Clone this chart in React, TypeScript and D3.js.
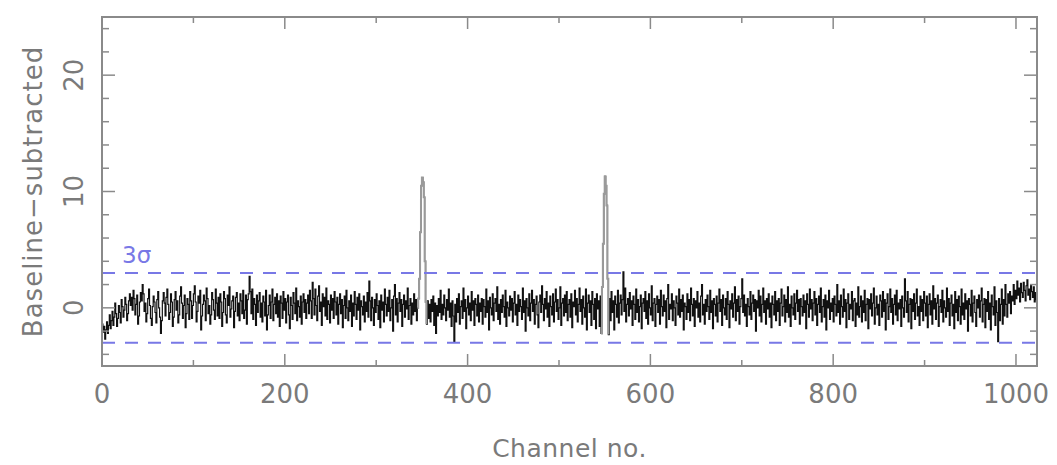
import React from 'react';
import * as d3 from 'd3';

// Baseline-subtracted spectrum, channels 0..1023
const noise0 = [
  -1.4,-2.1,-1.6,-2.7,-1.9,-1.2,-2.2,-1.5,-0.6,-1.8,-1.1,-0.3,-1.5,-0.8,0.4,-0.5,-1.6,-0.9,0.2,-0.4,-1.3,0.7,0.1,-0.8,-0.2,0.9,0.3,-1.1,-0.5,0.6,1.2,0.2,
  0.9,-0.2,1.5,0.8,-0.6,0.3,1.1,-1.4,-0.7,0.5,1.3,0.6,2.0,1.2,-0.3,0.4,-1.2,-0.5,0.8,1.6,0.2,-0.9,-1.5,0.1,1.0,0.5,-0.4,-1.3,0.7,1.4,0.0,-0.8,
  -2.2,-1.1,0.6,1.3,0.4,-0.7,0.9,1.6,0.3,-1.0,-0.4,1.2,0.5,-1.6,-0.8,0.7,1.4,-0.2,0.6,-1.3,-0.6,1.0,1.8,0.4,-0.9,0.2,1.1,-1.7,-0.5,0.8,0.3,-1.0,
  1.4,0.6,-0.9,0.2,1.2,1.9,0.5,-1.2,-0.3,1.0,0.4,1.5,-1.9,-0.7,0.3,1.1,0.6,-1.1,1.7,0.8,-0.5,0.2,-1.4,-0.6,1.3,0.7,-0.2,-1.0,1.6,0.4,-0.7,0.9,
];
const noise1 = [
  -0.9,1.2,0.5,-1.6,-0.4,1.4,0.8,-0.6,-1.3,1.1,0.2,1.8,-0.8,-0.1,0.6,1.0,-1.7,-0.3,0.9,1.3,-0.7,0.4,-1.1,1.2,0.6,-0.5,1.5,-0.9,-0.2,1.1,-1.4,0.7,
  1.2,2.7,1.4,-0.5,1.6,-1.0,0.8,0.3,-1.5,1.1,-0.4,0.6,1.3,-0.8,0.4,-1.2,1.0,0.5,-0.7,1.5,-1.9,-0.6,0.2,1.1,-0.9,0.5,1.6,-1.1,0.3,0.9,-0.5,1.2,
  -0.8,0.6,-1.6,1.0,0.4,-0.9,1.4,-0.2,0.8,-1.3,0.5,1.1,-0.6,-1.8,0.9,0.2,-1.0,1.3,0.4,-0.5,1.7,-1.1,0.6,0.1,-0.8,1.0,-1.4,0.5,1.2,-0.4,0.7,-0.9,
  0.4,1.1,-0.5,1.5,0.6,-0.9,2.2,0.8,-0.6,1.6,0.2,-1.1,1.0,1.9,-0.3,0.5,-1.5,1.2,0.1,0.9,-0.7,1.7,-1.0,0.6,0.3,-1.3,1.1,-0.2,0.8,-0.9,1.4,0.5,
];
const noise2 = [
  -0.6,0.9,-1.4,0.3,1.2,-0.5,0.7,-1.7,0.2,1.0,-0.9,1.5,0.0,-1.1,0.6,-0.3,1.1,-1.6,0.4,-0.7,1.4,0.3,-1.0,0.9,-0.2,1.2,-1.9,0.6,0.1,-0.6,1.0,-1.2,
  0.5,-0.3,1.3,-0.8,2.3,0.6,-1.1,0.9,0.0,-1.5,0.7,-0.4,1.2,0.2,-1.0,0.6,-1.7,1.1,-0.2,0.5,-1.2,1.6,0.3,-0.7,0.9,-0.3,1.5,-1.1,0.0,0.7,-2.0,1.0,
  2.0,-0.6,0.8,-1.2,0.4,1.3,-0.3,0.7,-1.6,0.3,1.1,-0.8,0.6,-0.1,1.7,-1.0,0.2,0.8,-1.4,0.4,-0.6,1.2,-0.3,0.7,-1.1,0.0,1.0,0.0,0.0,0.0,0.0,0.0,
  0.0,0.0,-0.5,-1.4,0.6,-0.9,0.3,-1.2,0.7,-0.3,1.0,-1.5,0.4,-2.2,0.2,-0.7,0.8,-0.4,1.5,-1.0,0.3,-0.6,1.1,0.0,-1.1,0.7,-0.2,1.6,-0.8,0.4,-1.6,0.6,
];
const noise3 = [
  -0.7,-2.9,0.3,-1.2,0.8,-0.4,1.2,-1.4,0.1,0.6,-0.9,1.7,-0.3,0.7,-1.8,0.0,1.0,-0.6,0.4,-1.1,1.4,-0.2,0.6,-1.5,0.8,0.3,-0.7,1.1,-1.2,0.4,-0.3,0.8,
  -1.4,0.7,0.1,-0.8,1.6,-0.4,0.6,-1.9,0.9,0.0,-0.6,1.2,-1.1,0.4,0.8,-0.3,1.8,-1.0,0.3,-1.4,0.7,-0.4,1.1,0.1,-0.8,1.5,-1.6,0.5,0.0,-0.7,1.0,-0.2,
  0.8,-1.2,0.4,1.4,-0.6,0.3,-1.5,1.1,-0.3,0.7,0.1,-1.0,1.7,-0.4,0.6,-2.0,0.8,0.0,-0.7,1.2,-1.1,0.4,1.5,-0.3,0.7,-1.4,0.3,1.0,-0.6,-1.7,0.5,1.1,
  -0.4,1.9,0.3,-1.1,0.8,-0.1,1.4,-0.8,0.4,-1.6,1.0,0.1,-0.6,1.2,-1.2,0.5,1.6,-0.3,0.7,-1.0,0.0,1.8,-1.5,0.4,0.8,-0.7,1.1,-0.4,1.4,-1.1,0.3,0.7,
];
const noise4 = [
  -0.8,1.2,-1.7,0.5,0.1,1.5,-0.6,0.8,-1.2,0.3,1.7,-0.3,0.7,-1.4,1.0,0.0,-0.8,1.6,-1.9,0.4,1.1,-0.4,0.6,-1.5,1.4,0.3,-1.0,0.8,-1.8,1.2,-0.1,0.6,
  -1.6,1.0,-2.2,0.0,0.0,0.0,0.0,0.0,0.0,0.0,-2.3,0.8,-1.1,1.4,-0.4,0.6,-1.9,1.0,0.3,-0.8,1.5,-1.3,0.4,1.1,-0.6,0.7,3.1,-0.3,1.7,-1.2,0.3,0.8,
  -0.7,1.3,-0.1,0.6,-1.5,1.0,0.3,-1.0,1.6,-0.4,0.7,-1.2,0.1,1.1,-1.8,0.4,0.8,-0.3,1.4,-0.9,0.6,-1.4,1.2,0.0,-0.6,1.9,-1.1,0.4,0.8,-1.6,0.3,1.0,
  -0.4,0.7,-1.4,1.5,0.1,-0.7,1.1,-0.3,0.6,-1.7,0.8,2.0,-1.0,0.3,-0.1,1.2,-1.1,0.6,0.0,-1.5,1.0,0.4,-0.6,1.6,-0.8,0.7,-0.3,1.1,-1.9,0.4,0.1,-1.0,
];
const noise5 = [
  1.2,-0.4,0.7,-1.1,1.7,0.3,-0.7,0.8,-1.6,0.6,0.0,1.4,-0.8,0.4,-1.2,1.0,2.0,-0.6,0.3,-1.4,0.7,-0.3,1.1,0.1,-1.0,1.5,-0.4,0.6,-1.8,0.8,0.3,-0.7,
  1.0,-1.2,0.4,1.6,-0.3,0.7,-1.5,1.1,0.0,-0.6,0.8,-1.0,1.4,0.3,-1.7,0.6,-0.1,1.2,-0.8,0.4,1.8,-1.1,0.7,-0.3,1.0,-1.4,0.1,0.8,2.5,-0.4,1.1,-0.7,
  0.3,-1.6,0.8,0.1,-0.6,1.4,-1.0,0.4,1.1,-0.3,0.7,-2.0,0.6,0.0,1.5,-0.7,1.0,-1.2,0.3,1.7,-0.4,0.6,-1.4,0.8,-0.1,1.2,-0.8,0.4,-1.7,1.0,0.3,-0.6,
  1.4,-1.1,0.6,-0.3,0.8,-1.5,0.4,1.6,-0.7,0.1,1.1,-1.2,0.7,-0.4,1.8,-0.8,0.3,-1.6,1.0,0.0,-0.6,1.2,-1.0,0.4,1.5,-0.3,0.7,-1.4,0.8,0.1,-0.7,1.1,
];
const noise6 = [
  -0.4,0.6,-1.8,1.2,0.3,-0.8,1.6,-0.1,0.7,-1.1,0.4,1.4,-0.6,0.8,-1.5,0.3,1.0,-0.4,1.7,-1.2,0.1,0.7,-0.8,1.1,-1.9,0.6,0.0,1.5,-1.0,0.4,-0.3,0.8,
  -1.2,1.0,0.3,-0.7,2.0,-0.4,0.6,-1.4,1.1,0.1,-0.8,1.6,-0.3,0.7,-1.7,0.4,1.2,-1.0,0.3,-0.1,1.4,-1.1,0.6,0.8,-1.6,0.4,-0.6,1.8,-0.8,0.1,1.0,-1.2,
  0.6,-0.4,1.5,-1.1,0.3,0.8,-1.8,0.7,-0.1,1.2,-0.7,0.4,1.7,-1.4,0.0,1.0,-0.6,0.3,-1.5,1.1,0.6,-0.8,1.4,-0.3,0.7,-1.9,0.4,1.2,-1.0,0.1,1.6,-0.4,
  0.8,-1.4,0.3,1.1,-0.6,1.5,-1.1,0.4,-0.1,0.7,-1.6,1.0,0.0,-0.8,2.5,0.6,-0.4,1.4,-1.2,0.3,0.8,-1.8,0.7,-0.3,1.2,-1.0,0.4,1.6,-0.7,0.1,-1.5,1.0,
];
const noise7 = [
  -0.3,0.7,-1.1,1.4,0.4,-0.7,1.0,-1.7,0.3,1.2,-0.6,0.6,-1.4,1.9,-0.1,0.8,-1.0,0.4,1.1,-1.6,0.1,0.7,-0.4,1.5,-1.2,0.6,0.0,-0.8,1.7,-0.3,0.8,-1.5,
  0.4,1.1,-0.7,0.3,-1.8,1.4,-0.4,0.7,-1.1,1.0,0.1,-1.4,1.6,-0.6,0.4,-1.0,1.2,-0.1,0.6,-2.0,0.8,0.3,-0.7,1.5,-1.2,0.4,1.0,-0.4,-1.6,0.7,0.0,1.1,
  -0.8,0.6,1.7,-1.2,0.3,0.8,-1.7,0.7,-0.3,1.4,-1.0,0.4,-1.9,1.1,0.1,-0.6,1.8,-1.5,0.6,-0.4,-2.9,0.8,-1.1,0.3,1.6,-1.4,0.7,-0.7,2.0,0.3,-0.8,1.2,
  0.4,1.4,-0.5,1.0,0.6,2.0,0.3,1.5,0.8,2.3,1.1,1.7,0.5,2.1,1.3,0.9,2.2,1.5,0.6,1.9,2.4,1.1,1.6,0.7,2.0,1.4,0.9,1.8,0.5,1.3,0.7,0.3,
];

// Line peaks (channel -> value)
const peak1Channels = [346, 347, 348, 349, 350, 351, 352, 353, 354];
const peak1Values = [0.8, 2.5, 6.5, 10.5, 11.2, 10.8, 9.5, 4.0, 0.5];
const peak2Channels = [547, 548, 549, 550, 551, 552, 553];
const peak2Values = [1.8, 5.5, 9.8, 11.3, 10.5, 8.8, 2.5];

const xTicksMajor = [0, 200, 400, 600, 800, 1000];
const yTicksMajor = [0, 10, 20];
const sigmaLevels = [3, -3];

const W = 1057;
const H = 465;
const L = 102, R = 1037, T = 17, B = 366;
const GRAY = '#8a8a8a';
const TEXT = '#7a7a7a';
const BLUE = '#7878e6';
const FONT = '"DejaVu Sans", sans-serif';

export default function App() {
  const values: number[] = [...noise0, ...noise1, ...noise2, ...noise3, ...noise4, ...noise5, ...noise6, ...noise7];
  peak1Channels.forEach((c, i) => { values[c] = peak1Values[i]; });
  peak2Channels.forEach((c, i) => { values[c] = peak2Values[i]; });

  const x = d3.scaleLinear().domain([0, 1023]).range([L, R]);
  const y = d3.scaleLinear().domain([-5, 25]).range([B, T]);

  const data = values.map((v, i) => [i, v] as [number, number]);
  const line = d3.line<[number, number]>()
    .x(d => x(d[0]))
    .y(d => y(d[1]))
    .curve(d3.curveStepAfter);

  const pk1 = data.filter(d => d[0] >= 345 && d[0] <= 355);
  const pk2 = data.filter(d => d[0] >= 546 && d[0] <= 554);

  const xMinor = d3.range(0, 1024, 100);
  const yMinor = d3.range(-4, 25, 2);

  return (
    <svg width={W} height={H} style={{ position: 'absolute', left: 0, top: 0, background: '#fff' }}>
      {/* spectrum */}
      <path d={line(data) || ''} fill="none" stroke="#111" strokeWidth={1.2} />
      <path d={line(pk1) || ''} fill="none" stroke="#9a9a9a" strokeWidth={2} />
      <path d={line(pk2) || ''} fill="none" stroke="#9a9a9a" strokeWidth={2} />

      {/* 3 sigma lines */}
      {sigmaLevels.map(s => (
        <line key={s} x1={L} x2={R} y1={y(s)} y2={y(s)} stroke={BLUE} strokeWidth={2} strokeDasharray="13 10" />
      ))}
      <text x={122} y={y(3) - 10} fill={BLUE} fontSize={23} fontFamily={FONT}>3σ</text>

      {/* frame */}
      <rect x={L} y={T} width={R - L} height={B - T} fill="none" stroke={GRAY} strokeWidth={2} />

      {/* x ticks */}
      {xMinor.map(t => {
        const major = t % 200 === 0;
        const len = major ? 12 : 6;
        return (
          <g key={'x' + t} stroke={GRAY} strokeWidth={1.5}>
            <line x1={x(t)} x2={x(t)} y1={B} y2={B - len} />
            <line x1={x(t)} x2={x(t)} y1={T} y2={T + len} />
          </g>
        );
      })}
      {/* y ticks */}
      {yMinor.map(t => {
        const major = t % 10 === 0;
        const len = major ? 13 : 7;
        return (
          <g key={'y' + t} stroke={GRAY} strokeWidth={1.5}>
            <line x1={L} x2={L + len} y1={y(t)} y2={y(t)} />
            <line x1={R} x2={R - len} y1={y(t)} y2={y(t)} />
          </g>
        );
      })}

      {/* x tick labels */}
      {xTicksMajor.map(t => (
        <text key={'xl' + t} x={x(t)} y={403} textAnchor="middle" fill={TEXT} fontSize={26} fontFamily={FONT}>{t}</text>
      ))}
      {/* y tick labels */}
      {yTicksMajor.map(t => (
        <text key={'yl' + t} transform={`translate(83,${y(t)}) rotate(-90)`} textAnchor="middle" fill={TEXT} fontSize={26} fontFamily={FONT}>{t}</text>
      ))}

      {/* axis titles */}
      <text x={(L + R) / 2} y={457} textAnchor="middle" fill={TEXT} fontSize={25} fontFamily={FONT} letterSpacing={0.5}>Channel no.</text>
      <text transform={`translate(42,${(T + B) / 2}) rotate(-90)`} textAnchor="middle" fill={TEXT} fontSize={26} fontFamily={FONT} letterSpacing={1}>Baseline−subtracted</text>
    </svg>
  );
}
